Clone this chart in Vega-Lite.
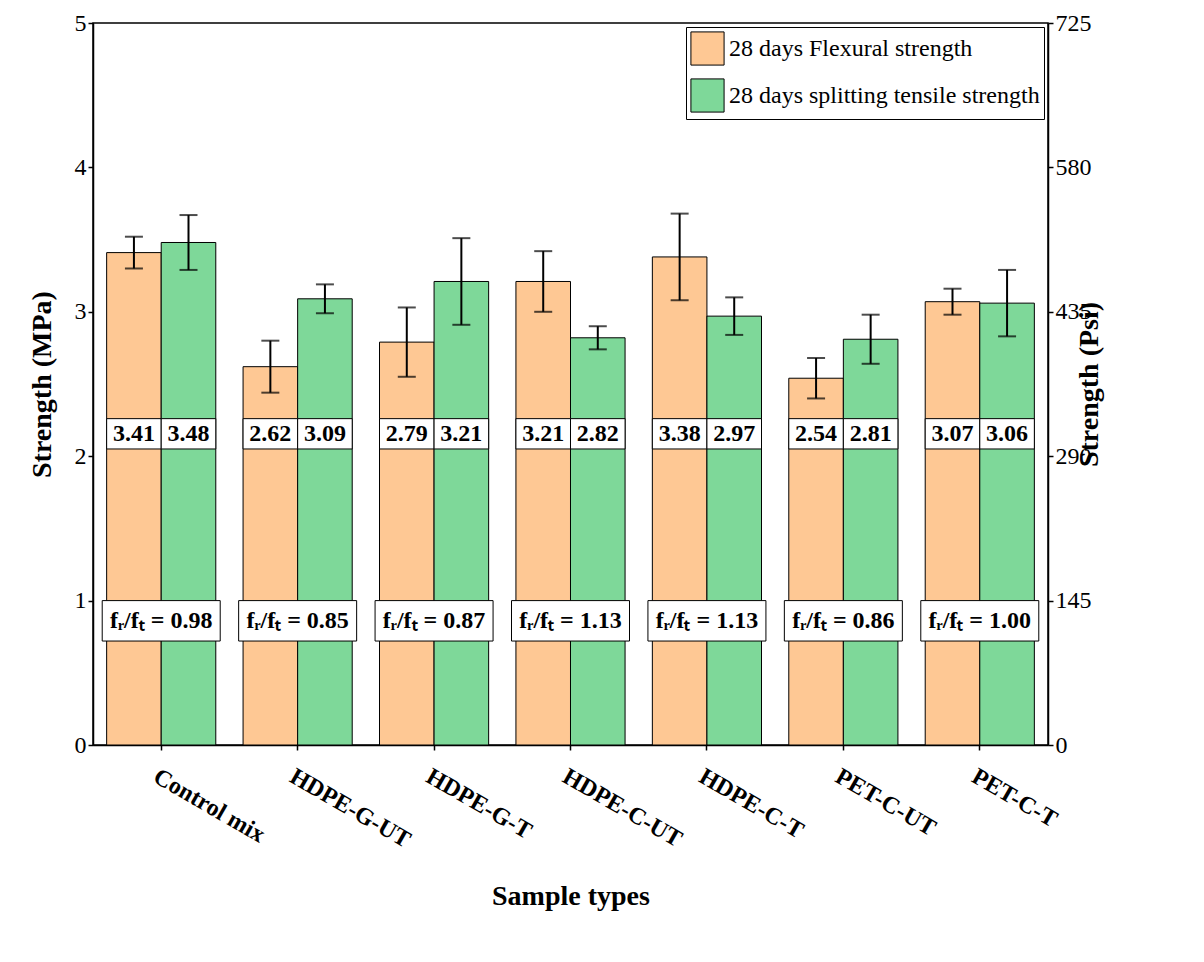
{
"$schema":"https://vega.github.io/schema/vega-lite/v6.json",
"width":955,"height":722,
"padding":{"left":28,"top":11,"right":5,"bottom":5},
"config":{"view":{"stroke":"black","strokeWidth":1.5},"font":"Liberation Serif",
"axis":{"labelFont":"Liberation Serif","titleFont":"Liberation Serif","labelFontSize":24,"titleFontSize":28,"labelColor":"black","titleColor":"black","domainColor":"black","tickColor":"black","domainWidth":1.5,"tickWidth":1.5,"grid":false,"labelFontWeight":"normal","titleFontWeight":"bold"}},
"datasets":{
"bars":[
{"Sample":"Control mix","Type":"28 days Flexural strength","v":3.41,"lo":3.30,"hi":3.52,"lab":"3.41"},
{"Sample":"Control mix","Type":"28 days splitting tensile strength","v":3.48,"lo":3.29,"hi":3.67,"lab":"3.48"},
{"Sample":"HDPE-G-UT","Type":"28 days Flexural strength","v":2.62,"lo":2.44,"hi":2.80,"lab":"2.62"},
{"Sample":"HDPE-G-UT","Type":"28 days splitting tensile strength","v":3.09,"lo":2.99,"hi":3.19,"lab":"3.09"},
{"Sample":"HDPE-G-T","Type":"28 days Flexural strength","v":2.79,"lo":2.55,"hi":3.03,"lab":"2.79"},
{"Sample":"HDPE-G-T","Type":"28 days splitting tensile strength","v":3.21,"lo":2.91,"hi":3.51,"lab":"3.21"},
{"Sample":"HDPE-C-UT","Type":"28 days Flexural strength","v":3.21,"lo":3.00,"hi":3.42,"lab":"3.21"},
{"Sample":"HDPE-C-UT","Type":"28 days splitting tensile strength","v":2.82,"lo":2.74,"hi":2.90,"lab":"2.82"},
{"Sample":"HDPE-C-T","Type":"28 days Flexural strength","v":3.38,"lo":3.08,"hi":3.68,"lab":"3.38"},
{"Sample":"HDPE-C-T","Type":"28 days splitting tensile strength","v":2.97,"lo":2.84,"hi":3.10,"lab":"2.97"},
{"Sample":"PET-C-UT","Type":"28 days Flexural strength","v":2.54,"lo":2.40,"hi":2.68,"lab":"2.54"},
{"Sample":"PET-C-UT","Type":"28 days splitting tensile strength","v":2.81,"lo":2.64,"hi":2.98,"lab":"2.81"},
{"Sample":"PET-C-T","Type":"28 days Flexural strength","v":3.07,"lo":2.98,"hi":3.16,"lab":"3.07"},
{"Sample":"PET-C-T","Type":"28 days splitting tensile strength","v":3.06,"lo":2.83,"hi":3.29,"lab":"3.06"}],
"ratios":[
{"Sample":"Control mix","r":"fᵣ/fₜ = 0.98"},{"Sample":"HDPE-G-UT","r":"fᵣ/fₜ = 0.85"},{"Sample":"HDPE-G-T","r":"fᵣ/fₜ = 0.87"},{"Sample":"HDPE-C-UT","r":"fᵣ/fₜ = 1.13"},{"Sample":"HDPE-C-T","r":"fᵣ/fₜ = 1.13"},{"Sample":"PET-C-UT","r":"fᵣ/fₜ = 0.86"},{"Sample":"PET-C-T","r":"fᵣ/fₜ = 1.00"}]},
"layer":[
{"layer":[
{"data":{"name":"bars"},"mark":{"type":"bar","stroke":"black","strokeWidth":1},
"encoding":{"x":{"field":"Sample","type":"nominal","sort":null,"scale":{"paddingInner":0.2,"paddingOuter":0.1},"title":"Sample types","axis":{"labelAngle":30,"labelAlign":"left","labelBaseline":"top","titlePadding":30,"labelPadding":14,"labelFontWeight":"bold"}},
"xOffset":{"field":"Type","type":"nominal"},
"y":{"field":"v","type":"quantitative","scale":{"domain":[0,5]},"title":"Strength (MPa)","axis":{"tickCount":5,"titlePadding":18}},
"color":{"field":"Type","type":"nominal","scale":{"range":["#FEC894","#7ED899"]},"legend":{"orient":"top-right","title":null,"labelFont":"Liberation Serif","labelFontSize":24,"labelColor":"black","symbolType":"square","symbolSize":1100,"symbolStrokeColor":"black","symbolStrokeWidth":1,"strokeColor":"black","padding":4,"offset":4,"rowPadding":8,"labelLimit":500,"fillColor":"white"}}}},
{"data":{"name":"bars"},"mark":{"type":"rule","strokeWidth":2,"color":"black"},
"encoding":{"x":{"field":"Sample","type":"nominal","sort":null},"xOffset":{"field":"Type","type":"nominal"},"y":{"field":"lo","type":"quantitative"},"y2":{"field":"hi"}}},
{"data":{"name":"bars"},"mark":{"type":"tick","orient":"horizontal","size":18,"thickness":2,"color":"black"},
"encoding":{"x":{"field":"Sample","type":"nominal","sort":null},"xOffset":{"field":"Type","type":"nominal"},"y":{"field":"lo","type":"quantitative"}}},
{"data":{"name":"bars"},"mark":{"type":"tick","orient":"horizontal","size":18,"thickness":2,"color":"black"},
"encoding":{"x":{"field":"Sample","type":"nominal","sort":null},"xOffset":{"field":"Type","type":"nominal"},"y":{"field":"hi","type":"quantitative"}}},
{"data":{"name":"bars"},"mark":{"type":"rect","fill":"white","stroke":"black","strokeWidth":1},
"encoding":{"x":{"field":"Sample","type":"nominal","sort":null},"xOffset":{"field":"Type","type":"nominal"},"y":{"datum":2.05},"y2":{"datum":2.26}}},
{"data":{"name":"bars"},"mark":{"type":"text","fontSize":24,"fontWeight":"bold","font":"Liberation Serif","color":"black"},
"encoding":{"x":{"field":"Sample","type":"nominal","sort":null},"xOffset":{"field":"Type","type":"nominal"},"y":{"datum":2.155},"text":{"field":"lab"}}},
{"data":{"name":"ratios"},"mark":{"type":"rect","fill":"white","stroke":"black","strokeWidth":1,"width":118},
"encoding":{"x":{"field":"Sample","type":"nominal","sort":null},"y":{"datum":0.72},"y2":{"datum":1.0}}},
{"data":{"name":"ratios"},"mark":{"type":"text","fontSize":24,"fontWeight":"bold","font":"Liberation Serif","color":"black"},
"encoding":{"x":{"field":"Sample","type":"nominal","sort":null},"y":{"datum":0.86},"text":{"field":"r"}}}
]},
{"data":{"values":[{"p":0}]},"mark":{"type":"tick","opacity":0},
"encoding":{"y":{"field":"p","type":"quantitative","scale":{"domain":[0,725]},"title":"Strength (Psi)","axis":{"orient":"right","values":[0,145,290,435,580,725],"titlePadding":12,"titleAngle":270}}}}
],
"resolve":{"scale":{"y":"independent"}}
}
